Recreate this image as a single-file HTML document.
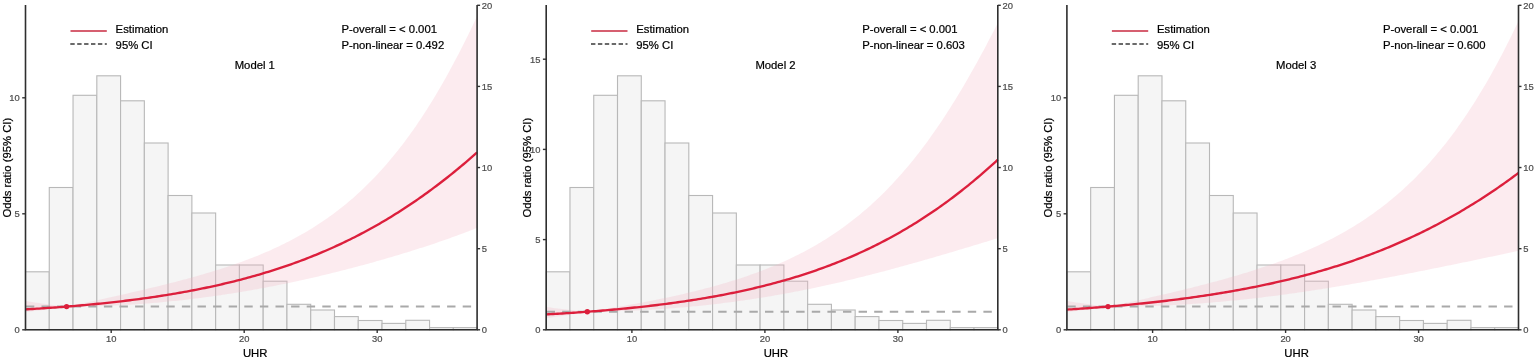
<!DOCTYPE html><html><head><meta charset="utf-8"><style>html,body{margin:0;padding:0;background:#fff;}svg{display:block;}text{font-family:"Liberation Sans",Arial,sans-serif;stroke-width:0.22px;}</style></head><body>
<svg width="1535" height="360" viewBox="0 0 1535 360">
<rect x="0" y="0" width="1535" height="360" fill="#fff"/>
<g><rect x="25.50" y="271.80" width="23.77" height="58.00" fill="#f5f5f5" stroke="#b8b8b8" stroke-width="1.1"/><rect x="49.27" y="187.50" width="23.77" height="142.30" fill="#f5f5f5" stroke="#b8b8b8" stroke-width="1.1"/><rect x="73.04" y="95.30" width="23.77" height="234.50" fill="#f5f5f5" stroke="#b8b8b8" stroke-width="1.1"/><rect x="96.81" y="75.80" width="23.77" height="254.00" fill="#f5f5f5" stroke="#b8b8b8" stroke-width="1.1"/><rect x="120.57" y="100.80" width="23.77" height="229.00" fill="#f5f5f5" stroke="#b8b8b8" stroke-width="1.1"/><rect x="144.34" y="143.00" width="23.77" height="186.80" fill="#f5f5f5" stroke="#b8b8b8" stroke-width="1.1"/><rect x="168.11" y="195.50" width="23.77" height="134.30" fill="#f5f5f5" stroke="#b8b8b8" stroke-width="1.1"/><rect x="191.88" y="213.00" width="23.77" height="116.80" fill="#f5f5f5" stroke="#b8b8b8" stroke-width="1.1"/><rect x="215.65" y="265.00" width="23.77" height="64.80" fill="#f5f5f5" stroke="#b8b8b8" stroke-width="1.1"/><rect x="239.42" y="265.00" width="23.77" height="64.80" fill="#f5f5f5" stroke="#b8b8b8" stroke-width="1.1"/><rect x="263.18" y="281.20" width="23.77" height="48.60" fill="#f5f5f5" stroke="#b8b8b8" stroke-width="1.1"/><rect x="286.95" y="304.30" width="23.77" height="25.50" fill="#f5f5f5" stroke="#b8b8b8" stroke-width="1.1"/><rect x="310.72" y="310.00" width="23.77" height="19.80" fill="#f5f5f5" stroke="#b8b8b8" stroke-width="1.1"/><rect x="334.49" y="316.60" width="23.77" height="13.20" fill="#f5f5f5" stroke="#b8b8b8" stroke-width="1.1"/><rect x="358.26" y="320.50" width="23.77" height="9.30" fill="#f5f5f5" stroke="#b8b8b8" stroke-width="1.1"/><rect x="382.03" y="323.40" width="23.77" height="6.40" fill="#f5f5f5" stroke="#b8b8b8" stroke-width="1.1"/><rect x="405.79" y="320.30" width="23.77" height="9.50" fill="#f5f5f5" stroke="#b8b8b8" stroke-width="1.1"/><rect x="429.56" y="327.60" width="23.77" height="2.20" fill="#f5f5f5" stroke="#b8b8b8" stroke-width="1.1"/><rect x="453.33" y="327.60" width="23.77" height="2.20" fill="#f5f5f5" stroke="#b8b8b8" stroke-width="1.1"/><polygon points="25.50,301.00 27.77,301.36 30.04,301.72 32.31,302.07 34.58,302.41 36.85,302.74 39.12,303.07 41.39,303.39 43.65,303.71 45.92,304.02 48.19,304.33 50.46,304.63 52.73,304.92 55.00,305.21 57.27,305.49 59.54,305.77 61.81,306.04 64.08,306.31 66.35,306.57 68.62,306.19 70.89,305.72 73.16,305.25 75.43,304.77 77.69,304.30 79.96,303.82 82.23,303.34 84.50,302.86 86.77,302.38 89.04,301.90 91.31,301.41 93.58,300.92 95.85,300.43 98.12,299.94 100.39,299.45 102.66,298.95 104.93,298.45 107.20,297.95 109.47,297.45 111.74,296.95 114.00,296.45 116.27,295.94 118.54,295.43 120.81,294.92 123.08,294.41 125.35,293.89 127.62,293.38 129.89,292.86 132.16,292.34 134.43,291.81 136.70,291.29 138.97,290.76 141.24,290.23 143.51,289.70 145.78,289.16 148.04,288.62 150.31,288.08 152.58,287.53 154.85,286.99 157.12,286.43 159.39,285.88 161.66,285.32 163.93,284.76 166.20,284.19 168.47,283.62 170.74,283.04 173.01,282.47 175.28,281.88 177.55,281.29 179.82,280.70 182.08,280.10 184.35,279.50 186.62,278.89 188.89,278.27 191.16,277.65 193.43,277.02 195.70,276.39 197.97,275.75 200.24,275.10 202.51,274.44 204.78,273.78 207.05,273.11 209.32,272.44 211.59,271.75 213.86,271.06 216.13,270.35 218.39,269.64 220.66,268.92 222.93,268.19 225.20,267.45 227.47,266.71 229.74,265.95 232.01,265.18 234.28,264.39 236.55,263.60 238.82,262.80 241.09,261.98 243.36,261.15 245.63,260.31 247.90,259.46 250.17,258.59 252.43,257.71 254.70,256.82 256.97,255.91 259.24,254.98 261.51,254.04 263.78,253.09 266.05,252.12 268.32,251.13 270.59,250.13 272.86,249.11 275.13,248.07 277.40,247.01 279.67,245.94 281.94,244.84 284.21,243.73 286.47,242.59 288.74,241.44 291.01,240.26 293.28,239.07 295.55,237.85 297.82,236.61 300.09,235.34 302.36,234.06 304.63,232.74 306.90,231.41 309.17,230.05 311.44,228.66 313.71,227.25 315.98,225.81 318.25,224.34 320.52,222.85 322.78,221.32 325.05,219.77 327.32,218.19 329.59,216.57 331.86,214.93 334.13,213.25 336.40,211.54 338.67,209.80 340.94,208.03 343.21,206.22 345.48,204.38 347.75,202.50 350.02,200.58 352.29,198.63 354.56,196.64 356.82,194.61 359.09,192.54 361.36,190.43 363.63,188.29 365.90,186.10 368.17,183.87 370.44,181.59 372.71,179.28 374.98,176.92 377.25,174.51 379.52,172.06 381.79,169.56 384.06,167.02 386.33,164.43 388.60,161.79 390.86,159.10 393.13,156.37 395.40,153.58 397.67,150.74 399.94,147.85 402.21,144.91 404.48,141.92 406.75,138.87 409.02,135.77 411.29,132.62 413.56,129.41 415.83,126.14 418.10,122.82 420.37,119.44 422.64,116.01 424.91,112.52 427.17,108.97 429.44,105.37 431.71,101.70 433.98,97.98 436.25,94.20 438.52,90.36 440.79,86.47 443.06,82.51 445.33,78.50 447.60,74.42 449.87,70.29 452.14,66.10 454.41,61.85 456.68,57.55 458.95,53.19 461.21,48.77 463.48,44.30 465.75,39.77 468.02,35.18 470.29,30.54 472.56,25.85 474.83,21.11 477.10,16.32 477.10,227.86 474.83,228.76 472.56,229.66 470.29,230.55 468.02,231.42 465.75,232.29 463.48,233.15 461.21,234.00 458.95,234.85 456.68,235.68 454.41,236.51 452.14,237.33 449.87,238.14 447.60,238.95 445.33,239.75 443.06,240.54 440.79,241.33 438.52,242.10 436.25,242.88 433.98,243.64 431.71,244.40 429.44,245.16 427.17,245.91 424.91,246.65 422.64,247.39 420.37,248.12 418.10,248.85 415.83,249.57 413.56,250.29 411.29,251.00 409.02,251.70 406.75,252.41 404.48,253.10 402.21,253.79 399.94,254.48 397.67,255.17 395.40,255.84 393.13,256.52 390.86,257.19 388.60,257.85 386.33,258.51 384.06,259.17 381.79,259.82 379.52,260.47 377.25,261.11 374.98,261.75 372.71,262.39 370.44,263.02 368.17,263.65 365.90,264.27 363.63,264.89 361.36,265.50 359.09,266.11 356.82,266.72 354.56,267.32 352.29,267.92 350.02,268.51 347.75,269.10 345.48,269.69 343.21,270.27 340.94,270.84 338.67,271.42 336.40,271.99 334.13,272.55 331.86,273.11 329.59,273.67 327.32,274.22 325.05,274.77 322.78,275.31 320.52,275.85 318.25,276.39 315.98,276.92 313.71,277.45 311.44,277.97 309.17,278.49 306.90,279.00 304.63,279.51 302.36,280.01 300.09,280.51 297.82,281.01 295.55,281.50 293.28,281.99 291.01,282.47 288.74,282.95 286.47,283.42 284.21,283.89 281.94,284.36 279.67,284.82 277.40,285.27 275.13,285.72 272.86,286.17 270.59,286.61 268.32,287.05 266.05,287.48 263.78,287.91 261.51,288.33 259.24,288.75 256.97,289.16 254.70,289.57 252.43,289.98 250.17,290.38 247.90,290.77 245.63,291.16 243.36,291.55 241.09,291.93 238.82,292.30 236.55,292.68 234.28,293.04 232.01,293.40 229.74,293.76 227.47,294.11 225.20,294.46 222.93,294.80 220.66,295.14 218.39,295.47 216.13,295.80 213.86,296.12 211.59,296.44 209.32,296.75 207.05,297.06 204.78,297.37 202.51,297.67 200.24,297.96 197.97,298.25 195.70,298.54 193.43,298.82 191.16,299.09 188.89,299.36 186.62,299.63 184.35,299.89 182.08,300.14 179.82,300.39 177.55,300.64 175.28,300.88 173.01,301.12 170.74,301.35 168.47,301.58 166.20,301.80 163.93,302.02 161.66,302.23 159.39,302.44 157.12,302.64 154.85,302.84 152.58,303.03 150.31,303.22 148.04,303.40 145.78,303.58 143.51,303.75 141.24,303.92 138.97,304.09 136.70,304.25 134.43,304.40 132.16,304.55 129.89,304.69 127.62,304.83 125.35,304.97 123.08,305.10 120.81,305.22 118.54,305.34 116.27,305.46 114.00,305.57 111.74,305.67 109.47,305.77 107.20,305.86 104.93,305.95 102.66,306.03 100.39,306.11 98.12,306.18 95.85,306.25 93.58,306.31 91.31,306.37 89.04,306.42 86.77,306.46 84.50,306.50 82.23,306.54 79.96,306.56 77.69,306.59 75.43,306.60 73.16,306.61 70.89,306.61 68.62,306.61 66.35,306.64 64.08,306.99 61.81,307.34 59.54,307.67 57.27,308.01 55.00,308.33 52.73,308.65 50.46,308.96 48.19,309.26 45.92,309.56 43.65,309.86 41.39,310.14 39.12,310.43 36.85,310.70 34.58,310.97 32.31,311.24 30.04,311.50 27.77,311.75 25.50,312.00" fill="#f5b5c3" fill-opacity="0.27" stroke="none"/><line x1="25.90" y1="306.60" x2="477.10" y2="306.60" stroke="#a9a9a9" stroke-width="2" stroke-dasharray="8.4 7.2"/><polyline points="25.50,309.36 27.77,309.23 30.04,309.10 32.31,308.96 34.58,308.83 36.85,308.69 39.12,308.55 41.39,308.40 43.65,308.25 45.92,308.10 48.19,307.95 50.46,307.79 52.73,307.64 55.00,307.47 57.27,307.31 59.54,307.14 61.81,306.97 64.08,306.80 66.35,306.62 68.62,306.44 70.89,306.26 73.16,306.07 75.43,305.88 77.69,305.69 79.96,305.49 82.23,305.29 84.50,305.09 86.77,304.88 89.04,304.67 91.31,304.45 93.58,304.24 95.85,304.02 98.12,303.79 100.39,303.56 102.66,303.33 104.93,303.09 107.20,302.85 109.47,302.61 111.74,302.36 114.00,302.11 116.27,301.85 118.54,301.59 120.81,301.33 123.08,301.06 125.35,300.78 127.62,300.50 129.89,300.22 132.16,299.94 134.43,299.64 136.70,299.35 138.97,299.05 141.24,298.74 143.51,298.43 145.78,298.12 148.04,297.80 150.31,297.47 152.58,297.14 154.85,296.81 157.12,296.47 159.39,296.12 161.66,295.77 163.93,295.41 166.20,295.05 168.47,294.69 170.74,294.31 173.01,293.93 175.28,293.55 177.55,293.16 179.82,292.76 182.08,292.36 184.35,291.95 186.62,291.54 188.89,291.12 191.16,290.69 193.43,290.26 195.70,289.82 197.97,289.37 200.24,288.92 202.51,288.46 204.78,288.00 207.05,287.52 209.32,287.04 211.59,286.55 213.86,286.06 216.13,285.56 218.39,285.05 220.66,284.53 222.93,284.01 225.20,283.48 227.47,282.94 229.74,282.39 232.01,281.84 234.28,281.27 236.55,280.70 238.82,280.12 241.09,279.53 243.36,278.94 245.63,278.33 247.90,277.72 250.17,277.10 252.43,276.47 254.70,275.83 256.97,275.18 259.24,274.52 261.51,273.86 263.78,273.18 266.05,272.49 268.32,271.80 270.59,271.09 272.86,270.38 275.13,269.65 277.40,268.92 279.67,268.17 281.94,267.42 284.21,266.65 286.47,265.88 288.74,265.09 291.01,264.29 293.28,263.49 295.55,262.67 297.82,261.84 300.09,261.00 302.36,260.15 304.63,259.28 306.90,258.41 309.17,257.52 311.44,256.62 313.71,255.71 315.98,254.79 318.25,253.86 320.52,252.91 322.78,251.95 325.05,250.98 327.32,250.00 329.59,249.00 331.86,247.99 334.13,246.97 336.40,245.94 338.67,244.89 340.94,243.83 343.21,242.75 345.48,241.66 347.75,240.56 350.02,239.45 352.29,238.32 354.56,237.18 356.82,236.02 359.09,234.85 361.36,233.66 363.63,232.46 365.90,231.25 368.17,230.02 370.44,228.78 372.71,227.52 374.98,226.25 377.25,224.96 379.52,223.66 381.79,222.34 384.06,221.01 386.33,219.66 388.60,218.30 390.86,216.92 393.13,215.52 395.40,214.11 397.67,212.69 399.94,211.25 402.21,209.79 404.48,208.32 406.75,206.83 409.02,205.32 411.29,203.80 413.56,202.26 415.83,200.71 418.10,199.14 420.37,197.55 422.64,195.95 424.91,194.33 427.17,192.69 429.44,191.04 431.71,189.37 433.98,187.68 436.25,185.98 438.52,184.26 440.79,182.52 443.06,180.77 445.33,179.00 447.60,177.22 449.87,175.41 452.14,173.59 454.41,171.76 456.68,169.90 458.95,168.03 461.21,166.15 463.48,164.25 465.75,162.33 468.02,160.39 470.29,158.44 472.56,156.47 474.83,154.48 477.10,152.48" fill="none" stroke="#dc1f3c" stroke-width="2.35" stroke-linejoin="round"/><circle cx="66.60" cy="306.60" r="2.7" fill="#dc1f3c"/><path d="M25.50,5.0 V329.8 H477.10 V5.0" fill="none" stroke="#2e2e2e" stroke-width="1.6"/><line x1="22.20" y1="329.80" x2="25.50" y2="329.80" stroke="#333" stroke-width="1.4"/><text x="19.80" y="333.35" font-size="9.4" fill="#4d4d4d" stroke="#4d4d4d" text-anchor="end">0</text><line x1="22.20" y1="213.80" x2="25.50" y2="213.80" stroke="#333" stroke-width="1.4"/><text x="19.80" y="217.35" font-size="9.4" fill="#4d4d4d" stroke="#4d4d4d" text-anchor="end">5</text><line x1="22.20" y1="97.80" x2="25.50" y2="97.80" stroke="#333" stroke-width="1.4"/><text x="19.80" y="101.35" font-size="9.4" fill="#4d4d4d" stroke="#4d4d4d" text-anchor="end">10</text><line x1="477.10" y1="329.80" x2="480.10" y2="329.80" stroke="#333" stroke-width="1.4"/><text x="481.80" y="333.35" font-size="9.4" fill="#4d4d4d" stroke="#4d4d4d">0</text><line x1="477.10" y1="248.68" x2="480.10" y2="248.68" stroke="#333" stroke-width="1.4"/><text x="481.80" y="252.23" font-size="9.4" fill="#4d4d4d" stroke="#4d4d4d">5</text><line x1="477.10" y1="167.55" x2="480.10" y2="167.55" stroke="#333" stroke-width="1.4"/><text x="481.80" y="171.10" font-size="9.4" fill="#4d4d4d" stroke="#4d4d4d">10</text><line x1="477.10" y1="86.42" x2="480.10" y2="86.42" stroke="#333" stroke-width="1.4"/><text x="481.80" y="89.97" font-size="9.4" fill="#4d4d4d" stroke="#4d4d4d">15</text><line x1="477.10" y1="5.30" x2="480.10" y2="5.30" stroke="#333" stroke-width="1.4"/><text x="481.80" y="8.85" font-size="9.4" fill="#4d4d4d" stroke="#4d4d4d">20</text><line x1="111.20" y1="329.8" x2="111.20" y2="333.0" stroke="#333" stroke-width="1.4"/><text x="111.20" y="342.4" font-size="9.4" fill="#4d4d4d" stroke="#4d4d4d" text-anchor="middle">10</text><line x1="244.20" y1="329.8" x2="244.20" y2="333.0" stroke="#333" stroke-width="1.4"/><text x="244.20" y="342.4" font-size="9.4" fill="#4d4d4d" stroke="#4d4d4d" text-anchor="middle">20</text><line x1="377.20" y1="329.8" x2="377.20" y2="333.0" stroke="#333" stroke-width="1.4"/><text x="377.20" y="342.4" font-size="9.4" fill="#4d4d4d" stroke="#4d4d4d" text-anchor="middle">30</text><text x="255.20" y="357" font-size="11.3" fill="#000" stroke="#000" text-anchor="middle">UHR</text><text transform="translate(10.60,167.7) rotate(-90)" font-size="11.3" fill="#000" stroke="#000" text-anchor="middle">Odds ratio (95% CI)</text><line x1="70.50" y1="31.0" x2="106.80" y2="31.0" stroke="#d65f70" stroke-width="1.9"/><line x1="70.30" y1="44.0" x2="106.80" y2="44.0" stroke="#3a3a3a" stroke-width="1.7" stroke-dasharray="4.4 2.5"/><text x="115.60" y="32.8" font-size="11.3" fill="#000" stroke="#000">Estimation</text><text x="115.60" y="48.9" font-size="11.3" fill="#000" stroke="#000">95% CI</text><text x="341.50" y="32.7" font-size="11.3" fill="#000" stroke="#000">P-overall = &lt; 0.001</text><text x="341.50" y="48.8" font-size="11.3" fill="#000" stroke="#000">P-non-linear = 0.492</text><text x="254.80" y="68.7" font-size="11.3" fill="#000" stroke="#000" text-anchor="middle">Model 1</text></g>
<g><rect x="546.20" y="271.80" width="23.77" height="58.00" fill="#f5f5f5" stroke="#b8b8b8" stroke-width="1.1"/><rect x="569.97" y="187.50" width="23.77" height="142.30" fill="#f5f5f5" stroke="#b8b8b8" stroke-width="1.1"/><rect x="593.74" y="95.30" width="23.77" height="234.50" fill="#f5f5f5" stroke="#b8b8b8" stroke-width="1.1"/><rect x="617.51" y="75.80" width="23.77" height="254.00" fill="#f5f5f5" stroke="#b8b8b8" stroke-width="1.1"/><rect x="641.27" y="100.80" width="23.77" height="229.00" fill="#f5f5f5" stroke="#b8b8b8" stroke-width="1.1"/><rect x="665.04" y="143.00" width="23.77" height="186.80" fill="#f5f5f5" stroke="#b8b8b8" stroke-width="1.1"/><rect x="688.81" y="195.50" width="23.77" height="134.30" fill="#f5f5f5" stroke="#b8b8b8" stroke-width="1.1"/><rect x="712.58" y="213.00" width="23.77" height="116.80" fill="#f5f5f5" stroke="#b8b8b8" stroke-width="1.1"/><rect x="736.35" y="265.00" width="23.77" height="64.80" fill="#f5f5f5" stroke="#b8b8b8" stroke-width="1.1"/><rect x="760.12" y="265.00" width="23.77" height="64.80" fill="#f5f5f5" stroke="#b8b8b8" stroke-width="1.1"/><rect x="783.88" y="281.20" width="23.77" height="48.60" fill="#f5f5f5" stroke="#b8b8b8" stroke-width="1.1"/><rect x="807.65" y="304.30" width="23.77" height="25.50" fill="#f5f5f5" stroke="#b8b8b8" stroke-width="1.1"/><rect x="831.42" y="310.00" width="23.77" height="19.80" fill="#f5f5f5" stroke="#b8b8b8" stroke-width="1.1"/><rect x="855.19" y="316.60" width="23.77" height="13.20" fill="#f5f5f5" stroke="#b8b8b8" stroke-width="1.1"/><rect x="878.96" y="320.50" width="23.77" height="9.30" fill="#f5f5f5" stroke="#b8b8b8" stroke-width="1.1"/><rect x="902.73" y="323.40" width="23.77" height="6.40" fill="#f5f5f5" stroke="#b8b8b8" stroke-width="1.1"/><rect x="926.49" y="320.30" width="23.77" height="9.50" fill="#f5f5f5" stroke="#b8b8b8" stroke-width="1.1"/><rect x="950.26" y="327.60" width="23.77" height="2.20" fill="#f5f5f5" stroke="#b8b8b8" stroke-width="1.1"/><rect x="974.03" y="327.60" width="23.77" height="2.20" fill="#f5f5f5" stroke="#b8b8b8" stroke-width="1.1"/><polygon points="546.20,307.00 548.47,307.31 550.74,307.61 553.01,307.90 555.28,308.19 557.55,308.48 559.82,308.76 562.09,309.03 564.35,309.30 566.62,309.56 568.89,309.82 571.16,310.08 573.43,310.33 575.70,310.57 577.97,310.81 580.24,311.05 582.51,311.28 584.78,311.51 587.05,311.74 589.32,311.46 591.59,311.11 593.86,310.76 596.13,310.41 598.39,310.05 600.66,309.69 602.93,309.33 605.20,308.97 607.47,308.60 609.74,308.23 612.01,307.85 614.28,307.47 616.55,307.09 618.82,306.70 621.09,306.31 623.36,305.92 625.63,305.53 627.90,305.12 630.17,304.72 632.44,304.31 634.70,303.90 636.97,303.48 639.24,303.06 641.51,302.64 643.78,302.21 646.05,301.78 648.32,301.34 650.59,300.90 652.86,300.45 655.13,300.00 657.40,299.54 659.67,299.08 661.94,298.62 664.21,298.14 666.48,297.67 668.74,297.18 671.01,296.70 673.28,296.20 675.55,295.70 677.82,295.20 680.09,294.69 682.36,294.17 684.63,293.65 686.90,293.12 689.17,292.58 691.44,292.03 693.71,291.48 695.98,290.93 698.25,290.36 700.52,289.79 702.78,289.21 705.05,288.62 707.32,288.02 709.59,287.42 711.86,286.80 714.13,286.18 716.40,285.55 718.67,284.91 720.94,284.26 723.21,283.60 725.48,282.93 727.75,282.25 730.02,281.56 732.29,280.86 734.56,280.15 736.83,279.43 739.09,278.70 741.36,277.95 743.63,277.20 745.90,276.43 748.17,275.65 750.44,274.86 752.71,274.05 754.98,273.23 757.25,272.40 759.52,271.55 761.79,270.69 764.06,269.82 766.33,268.93 768.60,268.02 770.87,267.10 773.13,266.17 775.40,265.22 777.67,264.25 779.94,263.26 782.21,262.26 784.48,261.24 786.75,260.20 789.02,259.14 791.29,258.07 793.56,256.97 795.83,255.86 798.10,254.73 800.37,253.57 802.64,252.40 804.91,251.20 807.17,249.98 809.44,248.74 811.71,247.48 813.98,246.19 816.25,244.88 818.52,243.55 820.79,242.19 823.06,240.81 825.33,239.40 827.60,237.97 829.87,236.51 832.14,235.02 834.41,233.51 836.68,231.97 838.95,230.40 841.22,228.80 843.48,227.17 845.75,225.51 848.02,223.82 850.29,222.10 852.56,220.35 854.83,218.57 857.10,216.75 859.37,214.90 861.64,213.02 863.91,211.10 866.18,209.15 868.45,207.16 870.72,205.14 872.99,203.08 875.26,200.98 877.52,198.85 879.79,196.67 882.06,194.46 884.33,192.21 886.60,189.92 888.87,187.60 891.14,185.22 893.41,182.81 895.68,180.36 897.95,177.86 900.22,175.33 902.49,172.75 904.76,170.12 907.03,167.45 909.30,164.74 911.56,161.98 913.83,159.18 916.10,156.33 918.37,153.44 920.64,150.50 922.91,147.51 925.18,144.48 927.45,141.40 929.72,138.27 931.99,135.09 934.26,131.87 936.53,128.60 938.80,125.28 941.07,121.91 943.34,118.50 945.61,115.04 947.87,111.53 950.14,107.97 952.41,104.36 954.68,100.71 956.95,97.01 959.22,93.27 961.49,89.48 963.76,85.64 966.03,81.76 968.30,77.83 970.57,73.86 972.84,69.84 975.11,65.78 977.38,61.68 979.65,57.54 981.91,53.36 984.18,49.14 986.45,44.89 988.72,40.59 990.99,36.27 993.26,31.91 995.53,27.51 997.80,23.09 997.80,238.17 995.53,238.87 993.26,239.57 990.99,240.26 988.72,240.96 986.45,241.65 984.18,242.34 981.91,243.04 979.65,243.73 977.38,244.41 975.11,245.10 972.84,245.79 970.57,246.47 968.30,247.15 966.03,247.84 963.76,248.52 961.49,249.20 959.22,249.87 956.95,250.55 954.68,251.22 952.41,251.90 950.14,252.57 947.87,253.24 945.61,253.91 943.34,254.57 941.07,255.24 938.80,255.90 936.53,256.56 934.26,257.22 931.99,257.88 929.72,258.53 927.45,259.19 925.18,259.84 922.91,260.49 920.64,261.13 918.37,261.78 916.10,262.42 913.83,263.06 911.56,263.70 909.30,264.33 907.03,264.96 904.76,265.59 902.49,266.22 900.22,266.85 897.95,267.47 895.68,268.09 893.41,268.70 891.14,269.32 888.87,269.93 886.60,270.53 884.33,271.14 882.06,271.74 879.79,272.33 877.52,272.93 875.26,273.52 872.99,274.10 870.72,274.69 868.45,275.27 866.18,275.84 863.91,276.42 861.64,276.98 859.37,277.55 857.10,278.11 854.83,278.67 852.56,279.22 850.29,279.77 848.02,280.31 845.75,280.85 843.48,281.39 841.22,281.92 838.95,282.45 836.68,282.97 834.41,283.49 832.14,284.01 829.87,284.52 827.60,285.02 825.33,285.53 823.06,286.02 820.79,286.51 818.52,287.00 816.25,287.49 813.98,287.96 811.71,288.44 809.44,288.91 807.17,289.37 804.91,289.83 802.64,290.28 800.37,290.73 798.10,291.18 795.83,291.62 793.56,292.05 791.29,292.48 789.02,292.91 786.75,293.33 784.48,293.75 782.21,294.16 779.94,294.56 777.67,294.96 775.40,295.36 773.13,295.75 770.87,296.14 768.60,296.52 766.33,296.89 764.06,297.26 761.79,297.63 759.52,297.99 757.25,298.35 754.98,298.70 752.71,299.05 750.44,299.39 748.17,299.72 745.90,300.05 743.63,300.38 741.36,300.70 739.09,301.02 736.83,301.33 734.56,301.64 732.29,301.94 730.02,302.24 727.75,302.53 725.48,302.82 723.21,303.10 720.94,303.38 718.67,303.65 716.40,303.92 714.13,304.19 711.86,304.45 709.59,304.70 707.32,304.95 705.05,305.20 702.78,305.44 700.52,305.67 698.25,305.90 695.98,306.13 693.71,306.35 691.44,306.57 689.17,306.78 686.90,306.99 684.63,307.19 682.36,307.39 680.09,307.59 677.82,307.78 675.55,307.97 673.28,308.15 671.01,308.32 668.74,308.50 666.48,308.67 664.21,308.83 661.94,308.99 659.67,309.14 657.40,309.30 655.13,309.44 652.86,309.58 650.59,309.72 648.32,309.85 646.05,309.98 643.78,310.11 641.51,310.23 639.24,310.34 636.97,310.46 634.70,310.56 632.44,310.66 630.17,310.76 627.90,310.86 625.63,310.95 623.36,311.03 621.09,311.11 618.82,311.19 616.55,311.26 614.28,311.33 612.01,311.39 609.74,311.45 607.47,311.50 605.20,311.55 602.93,311.59 600.66,311.63 598.39,311.66 596.13,311.69 593.86,311.72 591.59,311.74 589.32,311.75 587.05,311.81 584.78,312.24 582.51,312.65 580.24,313.06 577.97,313.45 575.70,313.83 573.43,314.21 571.16,314.57 568.89,314.93 566.62,315.27 564.35,315.61 562.09,315.94 559.82,316.25 557.55,316.56 555.28,316.87 553.01,317.16 550.74,317.45 548.47,317.73 546.20,318.00" fill="#f5b5c3" fill-opacity="0.27" stroke="none"/><line x1="546.60" y1="311.76" x2="997.80" y2="311.76" stroke="#a9a9a9" stroke-width="2" stroke-dasharray="8.4 7.2"/><polyline points="546.20,314.41 548.47,314.28 550.74,314.15 553.01,314.02 555.28,313.89 557.55,313.76 559.82,313.62 562.09,313.48 564.35,313.34 566.62,313.19 568.89,313.05 571.16,312.90 573.43,312.74 575.70,312.59 577.97,312.43 580.24,312.27 582.51,312.11 584.78,311.95 587.05,311.78 589.32,311.61 591.59,311.43 593.86,311.26 596.13,311.08 598.39,310.90 600.66,310.71 602.93,310.52 605.20,310.33 607.47,310.14 609.74,309.94 612.01,309.74 614.28,309.53 616.55,309.33 618.82,309.12 621.09,308.90 623.36,308.68 625.63,308.46 627.90,308.24 630.17,308.01 632.44,307.78 634.70,307.54 636.97,307.30 639.24,307.06 641.51,306.81 643.78,306.56 646.05,306.31 648.32,306.05 650.59,305.78 652.86,305.51 655.13,305.24 657.40,304.97 659.67,304.69 661.94,304.40 664.21,304.11 666.48,303.82 668.74,303.52 671.01,303.22 673.28,302.91 675.55,302.60 677.82,302.28 680.09,301.96 682.36,301.63 684.63,301.30 686.90,300.96 689.17,300.61 691.44,300.27 693.71,299.91 695.98,299.55 698.25,299.19 700.52,298.82 702.78,298.44 705.05,298.06 707.32,297.67 709.59,297.28 711.86,296.88 714.13,296.47 716.40,296.06 718.67,295.64 720.94,295.22 723.21,294.78 725.48,294.35 727.75,293.90 730.02,293.45 732.29,292.99 734.56,292.53 736.83,292.05 739.09,291.58 741.36,291.09 743.63,290.59 745.90,290.09 748.17,289.58 750.44,289.07 752.71,288.54 754.98,288.01 757.25,287.47 759.52,286.92 761.79,286.37 764.06,285.80 766.33,285.23 768.60,284.65 770.87,284.06 773.13,283.46 775.40,282.85 777.67,282.24 779.94,281.61 782.21,280.98 784.48,280.33 786.75,279.68 789.02,279.02 791.29,278.34 793.56,277.66 795.83,276.97 798.10,276.27 800.37,275.55 802.64,274.83 804.91,274.10 807.17,273.35 809.44,272.60 811.71,271.84 813.98,271.06 816.25,270.27 818.52,269.47 820.79,268.67 823.06,267.84 825.33,267.01 827.60,266.17 829.87,265.31 832.14,264.44 834.41,263.56 836.68,262.67 838.95,261.77 841.22,260.85 843.48,259.92 845.75,258.98 848.02,258.02 850.29,257.05 852.56,256.07 854.83,255.08 857.10,254.07 859.37,253.05 861.64,252.01 863.91,250.96 866.18,249.90 868.45,248.82 870.72,247.73 872.99,246.62 875.26,245.50 877.52,244.36 879.79,243.21 882.06,242.04 884.33,240.86 886.60,239.66 888.87,238.45 891.14,237.22 893.41,235.98 895.68,234.72 897.95,233.45 900.22,232.15 902.49,230.85 904.76,229.52 907.03,228.18 909.30,226.82 911.56,225.45 913.83,224.06 916.10,222.65 918.37,221.23 920.64,219.78 922.91,218.32 925.18,216.84 927.45,215.35 929.72,213.84 931.99,212.31 934.26,210.76 936.53,209.19 938.80,207.60 941.07,206.00 943.34,204.38 945.61,202.74 947.87,201.08 950.14,199.40 952.41,197.70 954.68,195.99 956.95,194.25 959.22,192.50 961.49,190.72 963.76,188.93 966.03,187.12 968.30,185.29 970.57,183.43 972.84,181.56 975.11,179.67 977.38,177.76 979.65,175.83 981.91,173.89 984.18,171.92 986.45,169.93 988.72,167.92 990.99,165.89 993.26,163.84 995.53,161.77 997.80,159.68" fill="none" stroke="#dc1f3c" stroke-width="2.35" stroke-linejoin="round"/><circle cx="587.30" cy="311.76" r="2.7" fill="#dc1f3c"/><path d="M546.20,5.0 V329.8 H997.80 V5.0" fill="none" stroke="#2e2e2e" stroke-width="1.6"/><line x1="542.90" y1="329.80" x2="546.20" y2="329.80" stroke="#333" stroke-width="1.4"/><text x="540.50" y="333.35" font-size="9.4" fill="#4d4d4d" stroke="#4d4d4d" text-anchor="end">0</text><line x1="542.90" y1="239.60" x2="546.20" y2="239.60" stroke="#333" stroke-width="1.4"/><text x="540.50" y="243.15" font-size="9.4" fill="#4d4d4d" stroke="#4d4d4d" text-anchor="end">5</text><line x1="542.90" y1="149.40" x2="546.20" y2="149.40" stroke="#333" stroke-width="1.4"/><text x="540.50" y="152.95" font-size="9.4" fill="#4d4d4d" stroke="#4d4d4d" text-anchor="end">10</text><line x1="542.90" y1="59.20" x2="546.20" y2="59.20" stroke="#333" stroke-width="1.4"/><text x="540.50" y="62.75" font-size="9.4" fill="#4d4d4d" stroke="#4d4d4d" text-anchor="end">15</text><line x1="997.80" y1="329.80" x2="1000.80" y2="329.80" stroke="#333" stroke-width="1.4"/><text x="1002.50" y="333.35" font-size="9.4" fill="#4d4d4d" stroke="#4d4d4d">0</text><line x1="997.80" y1="248.68" x2="1000.80" y2="248.68" stroke="#333" stroke-width="1.4"/><text x="1002.50" y="252.23" font-size="9.4" fill="#4d4d4d" stroke="#4d4d4d">5</text><line x1="997.80" y1="167.55" x2="1000.80" y2="167.55" stroke="#333" stroke-width="1.4"/><text x="1002.50" y="171.10" font-size="9.4" fill="#4d4d4d" stroke="#4d4d4d">10</text><line x1="997.80" y1="86.42" x2="1000.80" y2="86.42" stroke="#333" stroke-width="1.4"/><text x="1002.50" y="89.97" font-size="9.4" fill="#4d4d4d" stroke="#4d4d4d">15</text><line x1="997.80" y1="5.30" x2="1000.80" y2="5.30" stroke="#333" stroke-width="1.4"/><text x="1002.50" y="8.85" font-size="9.4" fill="#4d4d4d" stroke="#4d4d4d">20</text><line x1="631.90" y1="329.8" x2="631.90" y2="333.0" stroke="#333" stroke-width="1.4"/><text x="631.90" y="342.4" font-size="9.4" fill="#4d4d4d" stroke="#4d4d4d" text-anchor="middle">10</text><line x1="764.90" y1="329.8" x2="764.90" y2="333.0" stroke="#333" stroke-width="1.4"/><text x="764.90" y="342.4" font-size="9.4" fill="#4d4d4d" stroke="#4d4d4d" text-anchor="middle">20</text><line x1="897.90" y1="329.8" x2="897.90" y2="333.0" stroke="#333" stroke-width="1.4"/><text x="897.90" y="342.4" font-size="9.4" fill="#4d4d4d" stroke="#4d4d4d" text-anchor="middle">30</text><text x="775.90" y="357" font-size="11.3" fill="#000" stroke="#000" text-anchor="middle">UHR</text><text transform="translate(531.30,167.7) rotate(-90)" font-size="11.3" fill="#000" stroke="#000" text-anchor="middle">Odds ratio (95% CI)</text><line x1="591.20" y1="31.0" x2="627.50" y2="31.0" stroke="#d65f70" stroke-width="1.9"/><line x1="591.00" y1="44.0" x2="627.50" y2="44.0" stroke="#3a3a3a" stroke-width="1.7" stroke-dasharray="4.4 2.5"/><text x="636.30" y="32.8" font-size="11.3" fill="#000" stroke="#000">Estimation</text><text x="636.30" y="48.9" font-size="11.3" fill="#000" stroke="#000">95% CI</text><text x="862.20" y="32.7" font-size="11.3" fill="#000" stroke="#000">P-overall = &lt; 0.001</text><text x="862.20" y="48.8" font-size="11.3" fill="#000" stroke="#000">P-non-linear = 0.603</text><text x="775.50" y="68.7" font-size="11.3" fill="#000" stroke="#000" text-anchor="middle">Model 2</text></g>
<g><rect x="1066.90" y="271.80" width="23.77" height="58.00" fill="#f5f5f5" stroke="#b8b8b8" stroke-width="1.1"/><rect x="1090.67" y="187.50" width="23.77" height="142.30" fill="#f5f5f5" stroke="#b8b8b8" stroke-width="1.1"/><rect x="1114.44" y="95.30" width="23.77" height="234.50" fill="#f5f5f5" stroke="#b8b8b8" stroke-width="1.1"/><rect x="1138.21" y="75.80" width="23.77" height="254.00" fill="#f5f5f5" stroke="#b8b8b8" stroke-width="1.1"/><rect x="1161.97" y="100.80" width="23.77" height="229.00" fill="#f5f5f5" stroke="#b8b8b8" stroke-width="1.1"/><rect x="1185.74" y="143.00" width="23.77" height="186.80" fill="#f5f5f5" stroke="#b8b8b8" stroke-width="1.1"/><rect x="1209.51" y="195.50" width="23.77" height="134.30" fill="#f5f5f5" stroke="#b8b8b8" stroke-width="1.1"/><rect x="1233.28" y="213.00" width="23.77" height="116.80" fill="#f5f5f5" stroke="#b8b8b8" stroke-width="1.1"/><rect x="1257.05" y="265.00" width="23.77" height="64.80" fill="#f5f5f5" stroke="#b8b8b8" stroke-width="1.1"/><rect x="1280.82" y="265.00" width="23.77" height="64.80" fill="#f5f5f5" stroke="#b8b8b8" stroke-width="1.1"/><rect x="1304.58" y="281.20" width="23.77" height="48.60" fill="#f5f5f5" stroke="#b8b8b8" stroke-width="1.1"/><rect x="1328.35" y="304.30" width="23.77" height="25.50" fill="#f5f5f5" stroke="#b8b8b8" stroke-width="1.1"/><rect x="1352.12" y="310.00" width="23.77" height="19.80" fill="#f5f5f5" stroke="#b8b8b8" stroke-width="1.1"/><rect x="1375.89" y="316.60" width="23.77" height="13.20" fill="#f5f5f5" stroke="#b8b8b8" stroke-width="1.1"/><rect x="1399.66" y="320.50" width="23.77" height="9.30" fill="#f5f5f5" stroke="#b8b8b8" stroke-width="1.1"/><rect x="1423.43" y="323.40" width="23.77" height="6.40" fill="#f5f5f5" stroke="#b8b8b8" stroke-width="1.1"/><rect x="1447.19" y="320.30" width="23.77" height="9.50" fill="#f5f5f5" stroke="#b8b8b8" stroke-width="1.1"/><rect x="1470.96" y="327.60" width="23.77" height="2.20" fill="#f5f5f5" stroke="#b8b8b8" stroke-width="1.1"/><rect x="1494.73" y="327.60" width="23.77" height="2.20" fill="#f5f5f5" stroke="#b8b8b8" stroke-width="1.1"/><polygon points="1066.90,301.00 1069.17,301.36 1071.44,301.70 1073.71,302.05 1075.98,302.39 1078.25,302.72 1080.52,303.04 1082.79,303.37 1085.05,303.68 1087.32,303.99 1089.59,304.30 1091.86,304.60 1094.13,304.89 1096.40,305.18 1098.67,305.47 1100.94,305.75 1103.21,306.03 1105.48,306.30 1107.75,306.57 1110.02,306.19 1112.29,305.72 1114.56,305.25 1116.83,304.78 1119.09,304.30 1121.36,303.83 1123.63,303.35 1125.90,302.86 1128.17,302.38 1130.44,301.89 1132.71,301.40 1134.98,300.90 1137.25,300.40 1139.52,299.90 1141.79,299.40 1144.06,298.90 1146.33,298.39 1148.60,297.88 1150.87,297.37 1153.14,296.85 1155.40,296.33 1157.67,295.81 1159.94,295.29 1162.21,294.76 1164.48,294.24 1166.75,293.70 1169.02,293.17 1171.29,292.63 1173.56,292.09 1175.83,291.55 1178.10,291.00 1180.37,290.45 1182.64,289.90 1184.91,289.34 1187.18,288.78 1189.44,288.22 1191.71,287.65 1193.98,287.08 1196.25,286.51 1198.52,285.93 1200.79,285.35 1203.06,284.76 1205.33,284.17 1207.60,283.58 1209.87,282.98 1212.14,282.37 1214.41,281.76 1216.68,281.15 1218.95,280.53 1221.22,279.91 1223.48,279.28 1225.75,278.64 1228.02,278.00 1230.29,277.36 1232.56,276.70 1234.83,276.05 1237.10,275.38 1239.37,274.71 1241.64,274.03 1243.91,273.35 1246.18,272.65 1248.45,271.95 1250.72,271.25 1252.99,270.53 1255.26,269.81 1257.53,269.07 1259.79,268.33 1262.06,267.58 1264.33,266.83 1266.60,266.06 1268.87,265.28 1271.14,264.49 1273.41,263.70 1275.68,262.89 1277.95,262.07 1280.22,261.24 1282.49,260.40 1284.76,259.55 1287.03,258.69 1289.30,257.81 1291.57,256.92 1293.83,256.02 1296.10,255.10 1298.37,254.18 1300.64,253.24 1302.91,252.28 1305.18,251.31 1307.45,250.32 1309.72,249.32 1311.99,248.31 1314.26,247.28 1316.53,246.23 1318.80,245.16 1321.07,244.08 1323.34,242.98 1325.61,241.86 1327.87,240.72 1330.14,239.57 1332.41,238.39 1334.68,237.20 1336.95,235.99 1339.22,234.75 1341.49,233.49 1343.76,232.22 1346.03,230.92 1348.30,229.59 1350.57,228.25 1352.84,226.88 1355.11,225.49 1357.38,224.07 1359.65,222.63 1361.92,221.16 1364.18,219.66 1366.45,218.14 1368.72,216.59 1370.99,215.01 1373.26,213.41 1375.53,211.77 1377.80,210.11 1380.07,208.41 1382.34,206.69 1384.61,204.93 1386.88,203.14 1389.15,201.32 1391.42,199.46 1393.69,197.58 1395.96,195.65 1398.22,193.69 1400.49,191.70 1402.76,189.66 1405.03,187.59 1407.30,185.48 1409.57,183.34 1411.84,181.15 1414.11,178.93 1416.38,176.66 1418.65,174.35 1420.92,172.00 1423.19,169.60 1425.46,167.16 1427.73,164.68 1430.00,162.15 1432.26,159.58 1434.53,156.96 1436.80,154.29 1439.07,151.57 1441.34,148.81 1443.61,145.99 1445.88,143.13 1448.15,140.21 1450.42,137.24 1452.69,134.22 1454.96,131.14 1457.23,128.02 1459.50,124.83 1461.77,121.59 1464.04,118.30 1466.31,114.95 1468.57,111.54 1470.84,108.08 1473.11,104.55 1475.38,100.97 1477.65,97.33 1479.92,93.62 1482.19,89.86 1484.46,86.03 1486.73,82.15 1489.00,78.20 1491.27,74.19 1493.54,70.11 1495.81,65.97 1498.08,61.77 1500.35,57.51 1502.61,53.18 1504.88,48.79 1507.15,44.33 1509.42,39.81 1511.69,35.22 1513.96,30.57 1516.23,25.86 1518.50,21.08 1518.50,250.68 1516.23,251.19 1513.96,251.69 1511.69,252.20 1509.42,252.69 1507.15,253.19 1504.88,253.69 1502.61,254.18 1500.35,254.67 1498.08,255.16 1495.81,255.65 1493.54,256.14 1491.27,256.63 1489.00,257.11 1486.73,257.59 1484.46,258.07 1482.19,258.55 1479.92,259.03 1477.65,259.51 1475.38,259.99 1473.11,260.46 1470.84,260.94 1468.57,261.41 1466.31,261.88 1464.04,262.35 1461.77,262.82 1459.50,263.29 1457.23,263.76 1454.96,264.22 1452.69,264.69 1450.42,265.15 1448.15,265.62 1445.88,266.08 1443.61,266.54 1441.34,267.00 1439.07,267.46 1436.80,267.92 1434.53,268.37 1432.26,268.83 1430.00,269.29 1427.73,269.74 1425.46,270.19 1423.19,270.64 1420.92,271.09 1418.65,271.54 1416.38,271.99 1414.11,272.43 1411.84,272.88 1409.57,273.32 1407.30,273.76 1405.03,274.21 1402.76,274.64 1400.49,275.08 1398.22,275.52 1395.96,275.95 1393.69,276.39 1391.42,276.82 1389.15,277.25 1386.88,277.67 1384.61,278.10 1382.34,278.53 1380.07,278.95 1377.80,279.37 1375.53,279.79 1373.26,280.20 1370.99,280.62 1368.72,281.03 1366.45,281.44 1364.18,281.85 1361.92,282.26 1359.65,282.66 1357.38,283.06 1355.11,283.46 1352.84,283.86 1350.57,284.25 1348.30,284.65 1346.03,285.04 1343.76,285.42 1341.49,285.81 1339.22,286.19 1336.95,286.57 1334.68,286.95 1332.41,287.32 1330.14,287.69 1327.87,288.06 1325.61,288.43 1323.34,288.79 1321.07,289.15 1318.80,289.51 1316.53,289.86 1314.26,290.21 1311.99,290.56 1309.72,290.91 1307.45,291.25 1305.18,291.59 1302.91,291.92 1300.64,292.26 1298.37,292.58 1296.10,292.91 1293.83,293.23 1291.57,293.55 1289.30,293.87 1287.03,294.18 1284.76,294.49 1282.49,294.80 1280.22,295.10 1277.95,295.40 1275.68,295.69 1273.41,295.99 1271.14,296.28 1268.87,296.56 1266.60,296.84 1264.33,297.12 1262.06,297.39 1259.79,297.67 1257.53,297.93 1255.26,298.20 1252.99,298.46 1250.72,298.71 1248.45,298.96 1246.18,299.21 1243.91,299.46 1241.64,299.70 1239.37,299.94 1237.10,300.17 1234.83,300.40 1232.56,300.62 1230.29,300.85 1228.02,301.07 1225.75,301.28 1223.48,301.49 1221.22,301.70 1218.95,301.90 1216.68,302.10 1214.41,302.29 1212.14,302.48 1209.87,302.67 1207.60,302.85 1205.33,303.03 1203.06,303.21 1200.79,303.38 1198.52,303.55 1196.25,303.71 1193.98,303.87 1191.71,304.02 1189.44,304.17 1187.18,304.32 1184.91,304.46 1182.64,304.60 1180.37,304.74 1178.10,304.86 1175.83,304.99 1173.56,305.11 1171.29,305.23 1169.02,305.34 1166.75,305.45 1164.48,305.55 1162.21,305.65 1159.94,305.75 1157.67,305.84 1155.40,305.93 1153.14,306.01 1150.87,306.08 1148.60,306.16 1146.33,306.22 1144.06,306.29 1141.79,306.35 1139.52,306.40 1137.25,306.45 1134.98,306.49 1132.71,306.53 1130.44,306.56 1128.17,306.59 1125.90,306.61 1123.63,306.63 1121.36,306.64 1119.09,306.65 1116.83,306.65 1114.56,306.65 1112.29,306.64 1110.02,306.62 1107.75,306.64 1105.48,306.99 1103.21,307.33 1100.94,307.66 1098.67,307.99 1096.40,308.31 1094.13,308.63 1091.86,308.94 1089.59,309.24 1087.32,309.54 1085.05,309.83 1082.79,310.12 1080.52,310.41 1078.25,310.68 1075.98,310.96 1073.71,311.22 1071.44,311.49 1069.17,311.75 1066.90,312.00" fill="#f5b5c3" fill-opacity="0.27" stroke="none"/><line x1="1067.30" y1="306.60" x2="1518.50" y2="306.60" stroke="#a9a9a9" stroke-width="2" stroke-dasharray="8.4 7.2"/><polyline points="1066.90,309.60 1069.17,309.45 1071.44,309.31 1073.71,309.16 1075.98,309.00 1078.25,308.85 1080.52,308.69 1082.79,308.53 1085.05,308.37 1087.32,308.21 1089.59,308.04 1091.86,307.87 1094.13,307.70 1096.40,307.53 1098.67,307.35 1100.94,307.17 1103.21,306.99 1105.48,306.81 1107.75,306.62 1110.02,306.43 1112.29,306.24 1114.56,306.04 1116.83,305.85 1119.09,305.64 1121.36,305.44 1123.63,305.23 1125.90,305.03 1128.17,304.81 1130.44,304.60 1132.71,304.38 1134.98,304.16 1137.25,303.93 1139.52,303.70 1141.79,303.47 1144.06,303.24 1146.33,303.00 1148.60,302.76 1150.87,302.52 1153.14,302.27 1155.40,302.02 1157.67,301.76 1159.94,301.50 1162.21,301.24 1164.48,300.98 1166.75,300.71 1169.02,300.43 1171.29,300.16 1173.56,299.88 1175.83,299.59 1178.10,299.30 1180.37,299.01 1182.64,298.72 1184.91,298.42 1187.18,298.11 1189.44,297.80 1191.71,297.49 1193.98,297.17 1196.25,296.85 1198.52,296.53 1200.79,296.20 1203.06,295.86 1205.33,295.53 1207.60,295.18 1209.87,294.84 1212.14,294.48 1214.41,294.13 1216.68,293.76 1218.95,293.40 1221.22,293.02 1223.48,292.65 1225.75,292.27 1228.02,291.88 1230.29,291.49 1232.56,291.09 1234.83,290.69 1237.10,290.28 1239.37,289.87 1241.64,289.45 1243.91,289.03 1246.18,288.60 1248.45,288.16 1250.72,287.72 1252.99,287.27 1255.26,286.82 1257.53,286.36 1259.79,285.90 1262.06,285.43 1264.33,284.95 1266.60,284.47 1268.87,283.98 1271.14,283.48 1273.41,282.98 1275.68,282.47 1277.95,281.96 1280.22,281.44 1282.49,280.91 1284.76,280.38 1287.03,279.83 1289.30,279.29 1291.57,278.73 1293.83,278.17 1296.10,277.60 1298.37,277.02 1300.64,276.44 1302.91,275.84 1305.18,275.25 1307.45,274.64 1309.72,274.02 1311.99,273.40 1314.26,272.77 1316.53,272.13 1318.80,271.49 1321.07,270.83 1323.34,270.17 1325.61,269.50 1327.87,268.82 1330.14,268.14 1332.41,267.44 1334.68,266.74 1336.95,266.03 1339.22,265.30 1341.49,264.57 1343.76,263.83 1346.03,263.09 1348.30,262.33 1350.57,261.56 1352.84,260.79 1355.11,260.00 1357.38,259.21 1359.65,258.40 1361.92,257.59 1364.18,256.77 1366.45,255.93 1368.72,255.09 1370.99,254.24 1373.26,253.37 1375.53,252.50 1377.80,251.61 1380.07,250.72 1382.34,249.82 1384.61,248.90 1386.88,247.97 1389.15,247.04 1391.42,246.09 1393.69,245.13 1395.96,244.16 1398.22,243.18 1400.49,242.19 1402.76,241.18 1405.03,240.17 1407.30,239.14 1409.57,238.10 1411.84,237.05 1414.11,235.99 1416.38,234.92 1418.65,233.83 1420.92,232.74 1423.19,231.63 1425.46,230.51 1427.73,229.37 1430.00,228.22 1432.26,227.06 1434.53,225.89 1436.80,224.71 1439.07,223.51 1441.34,222.30 1443.61,221.08 1445.88,219.84 1448.15,218.59 1450.42,217.33 1452.69,216.05 1454.96,214.76 1457.23,213.46 1459.50,212.15 1461.77,210.82 1464.04,209.47 1466.31,208.11 1468.57,206.74 1470.84,205.36 1473.11,203.96 1475.38,202.55 1477.65,201.12 1479.92,199.68 1482.19,198.22 1484.46,196.75 1486.73,195.27 1489.00,193.77 1491.27,192.25 1493.54,190.73 1495.81,189.18 1498.08,187.63 1500.35,186.05 1502.61,184.47 1504.88,182.86 1507.15,181.25 1509.42,179.62 1511.69,177.97 1513.96,176.31 1516.23,174.63 1518.50,172.94" fill="none" stroke="#dc1f3c" stroke-width="2.35" stroke-linejoin="round"/><circle cx="1108.00" cy="306.60" r="2.7" fill="#dc1f3c"/><path d="M1066.90,5.0 V329.8 H1518.50 V5.0" fill="none" stroke="#2e2e2e" stroke-width="1.6"/><line x1="1063.60" y1="329.80" x2="1066.90" y2="329.80" stroke="#333" stroke-width="1.4"/><text x="1061.20" y="333.35" font-size="9.4" fill="#4d4d4d" stroke="#4d4d4d" text-anchor="end">0</text><line x1="1063.60" y1="213.80" x2="1066.90" y2="213.80" stroke="#333" stroke-width="1.4"/><text x="1061.20" y="217.35" font-size="9.4" fill="#4d4d4d" stroke="#4d4d4d" text-anchor="end">5</text><line x1="1063.60" y1="97.80" x2="1066.90" y2="97.80" stroke="#333" stroke-width="1.4"/><text x="1061.20" y="101.35" font-size="9.4" fill="#4d4d4d" stroke="#4d4d4d" text-anchor="end">10</text><line x1="1518.50" y1="329.80" x2="1521.50" y2="329.80" stroke="#333" stroke-width="1.4"/><text x="1523.20" y="333.35" font-size="9.4" fill="#4d4d4d" stroke="#4d4d4d">0</text><line x1="1518.50" y1="248.68" x2="1521.50" y2="248.68" stroke="#333" stroke-width="1.4"/><text x="1523.20" y="252.23" font-size="9.4" fill="#4d4d4d" stroke="#4d4d4d">5</text><line x1="1518.50" y1="167.55" x2="1521.50" y2="167.55" stroke="#333" stroke-width="1.4"/><text x="1523.20" y="171.10" font-size="9.4" fill="#4d4d4d" stroke="#4d4d4d">10</text><line x1="1518.50" y1="86.42" x2="1521.50" y2="86.42" stroke="#333" stroke-width="1.4"/><text x="1523.20" y="89.97" font-size="9.4" fill="#4d4d4d" stroke="#4d4d4d">15</text><line x1="1518.50" y1="5.30" x2="1521.50" y2="5.30" stroke="#333" stroke-width="1.4"/><text x="1523.20" y="8.85" font-size="9.4" fill="#4d4d4d" stroke="#4d4d4d">20</text><line x1="1152.60" y1="329.8" x2="1152.60" y2="333.0" stroke="#333" stroke-width="1.4"/><text x="1152.60" y="342.4" font-size="9.4" fill="#4d4d4d" stroke="#4d4d4d" text-anchor="middle">10</text><line x1="1285.60" y1="329.8" x2="1285.60" y2="333.0" stroke="#333" stroke-width="1.4"/><text x="1285.60" y="342.4" font-size="9.4" fill="#4d4d4d" stroke="#4d4d4d" text-anchor="middle">20</text><line x1="1418.60" y1="329.8" x2="1418.60" y2="333.0" stroke="#333" stroke-width="1.4"/><text x="1418.60" y="342.4" font-size="9.4" fill="#4d4d4d" stroke="#4d4d4d" text-anchor="middle">30</text><text x="1296.60" y="357" font-size="11.3" fill="#000" stroke="#000" text-anchor="middle">UHR</text><text transform="translate(1052.00,167.7) rotate(-90)" font-size="11.3" fill="#000" stroke="#000" text-anchor="middle">Odds ratio (95% CI)</text><line x1="1111.90" y1="31.0" x2="1148.20" y2="31.0" stroke="#d65f70" stroke-width="1.9"/><line x1="1111.70" y1="44.0" x2="1148.20" y2="44.0" stroke="#3a3a3a" stroke-width="1.7" stroke-dasharray="4.4 2.5"/><text x="1157.00" y="32.8" font-size="11.3" fill="#000" stroke="#000">Estimation</text><text x="1157.00" y="48.9" font-size="11.3" fill="#000" stroke="#000">95% CI</text><text x="1382.90" y="32.7" font-size="11.3" fill="#000" stroke="#000">P-overall = &lt; 0.001</text><text x="1382.90" y="48.8" font-size="11.3" fill="#000" stroke="#000">P-non-linear = 0.600</text><text x="1296.20" y="68.7" font-size="11.3" fill="#000" stroke="#000" text-anchor="middle">Model 3</text></g>
</svg></body></html>
